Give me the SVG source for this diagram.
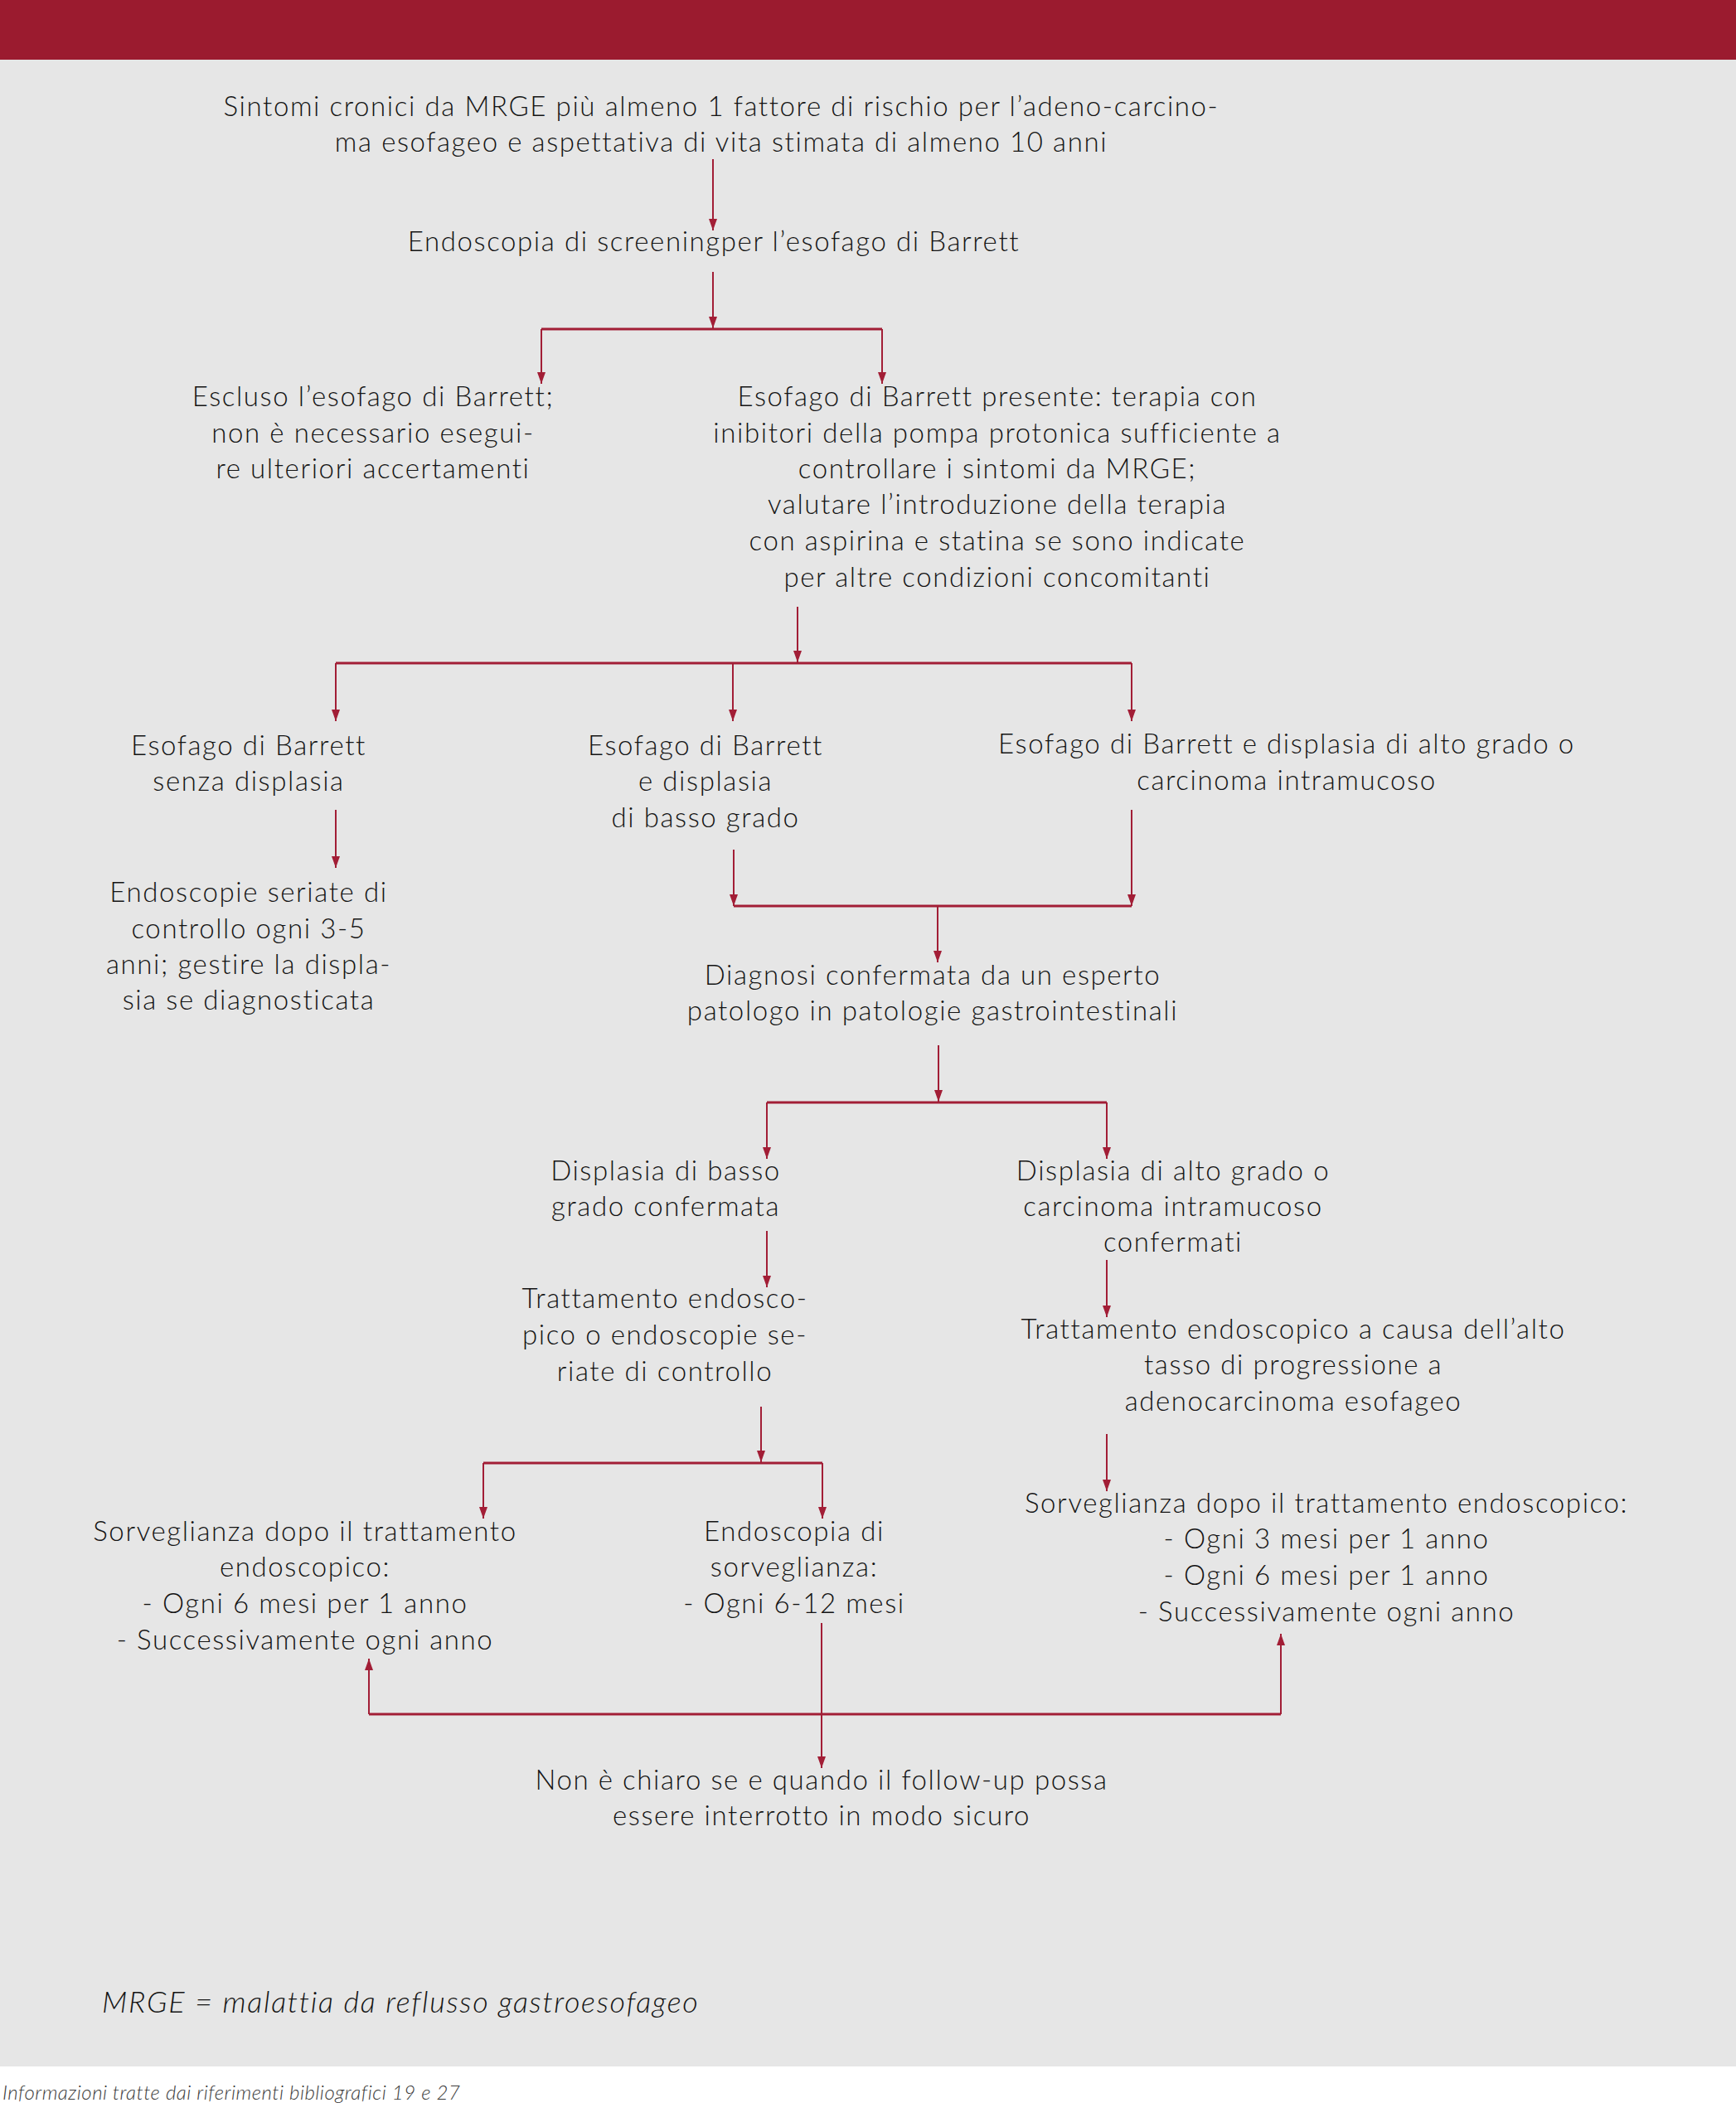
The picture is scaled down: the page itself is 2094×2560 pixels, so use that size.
<svg xmlns="http://www.w3.org/2000/svg" width="2094" height="2560" viewBox="0 0 2094 2560">
<style>
.t{font-family:Lato,"Open Sans","Liberation Sans",sans-serif;font-weight:300;font-size:33px;letter-spacing:1.6px;fill:#141414;text-anchor:middle}
.c{stroke:#a21e36;stroke-width:2;fill:none}
.h{stroke:#a21e36;stroke-width:3;fill:none}
.leg{font-family:Lato,"Open Sans","Liberation Sans",sans-serif;font-weight:300;font-style:italic;font-size:36px;letter-spacing:1.7px;fill:#141414}
.src{font-family:Lato,"Open Sans","Liberation Sans",sans-serif;font-weight:300;font-style:italic;font-size:24px;letter-spacing:0.5px;fill:#3a3a3a}
</style>
<defs>
<marker id="ah" viewBox="0 0 14 10" refX="14" refY="5" markerWidth="14" markerHeight="10" markerUnits="userSpaceOnUse" orient="auto">
<path d="M0,0 L14,5 L0,10 z" fill="#a21e36"/>
</marker>
</defs>
<rect x="0" y="0" width="2094" height="2560" fill="#ffffff"/>
<rect x="0" y="72" width="2094" height="2421" fill="#e6e6e6"/>
<rect x="0" y="0" width="2094" height="72" fill="#9b1b2f"/>

<g id="connectors">
<line class="c" x1="860" y1="192" x2="860" y2="278" marker-end="url(#ah)"/>
<line class="c" x1="860" y1="328" x2="860" y2="396" marker-end="url(#ah)"/>
<line class="h" x1="653" y1="397" x2="1064" y2="397"/>
<line class="c" x1="653" y1="397" x2="653" y2="463" marker-end="url(#ah)"/>
<line class="c" x1="1064" y1="397" x2="1064" y2="463" marker-end="url(#ah)"/>

<line class="c" x1="962" y1="732" x2="962" y2="799" marker-end="url(#ah)"/>
<line class="h" x1="405" y1="800" x2="1365" y2="800"/>
<line class="c" x1="405" y1="800" x2="405" y2="870" marker-end="url(#ah)"/>
<line class="c" x1="884" y1="800" x2="884" y2="870" marker-end="url(#ah)"/>
<line class="c" x1="1365" y1="800" x2="1365" y2="870" marker-end="url(#ah)"/>

<line class="c" x1="405" y1="977" x2="405" y2="1047" marker-end="url(#ah)"/>
<line class="c" x1="885" y1="1025" x2="885" y2="1093" marker-end="url(#ah)"/>
<line class="c" x1="1365" y1="977" x2="1365" y2="1093" marker-end="url(#ah)"/>
<line class="h" x1="885" y1="1093" x2="1365" y2="1093"/>
<line class="c" x1="1131" y1="1093" x2="1131" y2="1161" marker-end="url(#ah)"/>

<line class="c" x1="1132" y1="1261" x2="1132" y2="1329" marker-end="url(#ah)"/>
<line class="h" x1="925" y1="1330" x2="1335" y2="1330"/>
<line class="c" x1="925" y1="1330" x2="925" y2="1398" marker-end="url(#ah)"/>
<line class="c" x1="1335" y1="1330" x2="1335" y2="1398" marker-end="url(#ah)"/>

<line class="c" x1="925" y1="1485" x2="925" y2="1553" marker-end="url(#ah)"/>
<line class="c" x1="1335" y1="1520" x2="1335" y2="1589" marker-end="url(#ah)"/>

<line class="c" x1="918" y1="1697" x2="918" y2="1764" marker-end="url(#ah)"/>
<line class="h" x1="583" y1="1765" x2="992" y2="1765"/>
<line class="c" x1="583" y1="1765" x2="583" y2="1832" marker-end="url(#ah)"/>
<line class="c" x1="992" y1="1765" x2="992" y2="1832" marker-end="url(#ah)"/>
<line class="c" x1="1335" y1="1730" x2="1335" y2="1799" marker-end="url(#ah)"/>

<line class="c" x1="991" y1="1958" x2="991" y2="2133" marker-end="url(#ah)"/>
<line class="h" x1="445" y1="2068" x2="1545" y2="2068"/>
<line class="c" x1="445" y1="2068" x2="445" y2="2001" marker-end="url(#ah)"/>
<line class="c" x1="1545" y1="2068" x2="1545" y2="1971" marker-end="url(#ah)"/>
</g>

<g id="n1"><text class="t" x="870" y="140">Sintomi cronici da MRGE più almeno 1 fattore di rischio per l’adeno-carcino-</text><text class="t" x="870" y="183">ma esofageo e aspettativa di vita stimata di almeno 10 anni</text></g>
<g id="n2"><text class="t" x="861" y="303">Endoscopia di screeningper l’esofago di Barrett</text></g>
<g id="n3"><text class="t" x="450" y="490">Escluso l’esofago di Barrett;</text><text class="t" x="450" y="534">non è necessario esegui-</text><text class="t" x="450" y="577">re ulteriori accertamenti</text></g>
<g id="n4"><text class="t" x="1203" y="490">Esofago di Barrett presente: terapia con</text><text class="t" x="1203" y="534">inibitori della pompa protonica sufficiente a</text><text class="t" x="1203" y="577">controllare i sintomi da MRGE;</text><text class="t" x="1203" y="620">valutare l’introduzione della terapia</text><text class="t" x="1203" y="664">con aspirina e statina se sono indicate</text><text class="t" x="1203" y="708">per altre condizioni concomitanti</text></g>
<g id="n5"><text class="t" x="300" y="911">Esofago di Barrett</text><text class="t" x="300" y="954">senza displasia</text></g>
<g id="n6"><text class="t" x="851" y="911">Esofago di Barrett</text><text class="t" x="851" y="954">e displasia</text><text class="t" x="851" y="998">di basso grado</text></g>
<g id="n7"><text class="t" x="1552" y="909">Esofago di Barrett e displasia di alto grado o</text><text class="t" x="1552" y="953">carcinoma intramucoso</text></g>
<g id="n8"><text class="t" x="300" y="1088">Endoscopie seriate di</text><text class="t" x="300" y="1132">controllo ogni 3-5</text><text class="t" x="300" y="1175">anni; gestire la displa-</text><text class="t" x="300" y="1218">sia se diagnosticata</text></g>
<g id="n9"><text class="t" x="1125" y="1188">Diagnosi confermata da un esperto</text><text class="t" x="1125" y="1231">patologo in patologie gastrointestinali</text></g>
<g id="n10"><text class="t" x="803" y="1424">Displasia di basso</text><text class="t" x="803" y="1467">grado confermata</text></g>
<g id="n11"><text class="t" x="1415" y="1424">Displasia di alto grado o</text><text class="t" x="1415" y="1467">carcinoma intramucoso</text><text class="t" x="1415" y="1510">confermati</text></g>
<g id="n12"><text class="t" x="802" y="1578">Trattamento endosco-</text><text class="t" x="802" y="1622">pico o endoscopie se-</text><text class="t" x="802" y="1666">riate di controllo</text></g>
<g id="n13"><text class="t" x="1560" y="1615">Trattamento endoscopico a causa dell’alto</text><text class="t" x="1560" y="1658">tasso di progressione a</text><text class="t" x="1560" y="1702">adenocarcinoma esofageo</text></g>
<g id="n14"><text class="t" x="368" y="1859">Sorveglianza dopo il trattamento</text><text class="t" x="368" y="1902">endoscopico:</text><text class="t" x="368" y="1946">- Ogni 6 mesi per 1 anno</text><text class="t" x="368" y="1990">- Successivamente ogni anno</text></g>
<g id="n15"><text class="t" x="958" y="1859">Endoscopia di</text><text class="t" x="958" y="1902">sorveglianza:</text><text class="t" x="958" y="1946">- Ogni 6-12 mesi</text></g>
<g id="n16"><text class="t" x="1600" y="1825">Sorveglianza dopo il trattamento endoscopico:</text><text class="t" x="1600" y="1868">- Ogni 3 mesi per 1 anno</text><text class="t" x="1600" y="1912">- Ogni 6 mesi per 1 anno</text><text class="t" x="1600" y="1956">- Successivamente ogni anno</text></g>
<g id="n17"><text class="t" x="991" y="2159">Non è chiaro se e quando il follow-up possa</text><text class="t" x="991" y="2202">essere interrotto in modo sicuro</text></g>
<g id="legend"><text class="leg" x="123" y="2428">MRGE = malattia da reflusso gastroesofageo</text></g>
<g id="source"><text class="src" x="3" y="2533">Informazioni tratte dai riferimenti bibliografici 19 e 27</text></g>
</svg>
